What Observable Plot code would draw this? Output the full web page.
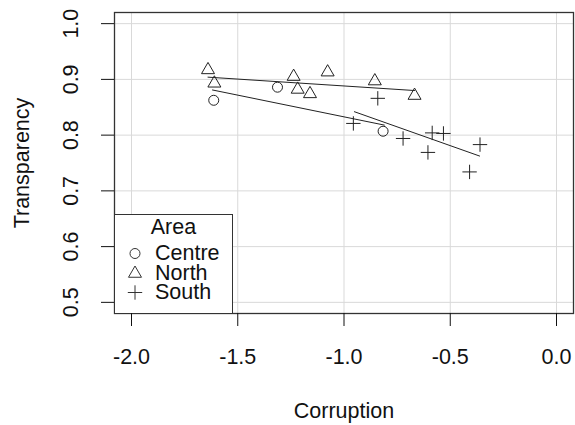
<!DOCTYPE html>
<html>
<head>
<meta charset="utf-8">
<script src="https://cdn.jsdelivr.net/npm/d3@7"></script>
<script src="https://cdn.jsdelivr.net/npm/@observablehq/plot@0.6"></script>
<style>
  body { margin: 0; background: #fff; }
  #wrap { position: relative; width: 575px; height: 425px; font-family: "Liberation Sans", Arial, sans-serif; }
  #legend { position: absolute; left: 114px; top: 214px; width: 117px; height: 98px; border: 1px solid #333; border-bottom: none; background: #fff; color: #111; font-size: 21.5px; }
  #legend .title { text-align: center; line-height: 20px; margin-top: 2px; margin-bottom: 7px; }
  #legend .row { display: flex; align-items: center; height: 19.5px; line-height: 19.5px; }
  #legend svg { width: 40px; height: 19px; flex: none; }
</style>
</head>
<body>
<div id="wrap"></div>
<script>
// Data
const centreX = [-1.613, -1.313, -0.816];
const centreY = [0.8625, 0.886, 0.807];
const northX = [-1.64, -1.61, -1.237, -1.218, -1.16, -1.077, -0.855, -0.668];
const northY = [0.917, 0.893, 0.905, 0.882, 0.874, 0.913, 0.897, 0.871];
const southX = [-0.841, -0.956, -0.722, -0.585, -0.532, -0.605, -0.36, -0.409];
const southY = [0.866, 0.821, 0.794, 0.804, 0.803, 0.769, 0.783, 0.734];
// fitted line endpoints per area
const fitArea = ["Centre", "Centre", "North", "North", "South", "South"];
const fitX = [-1.619, -0.81, -1.64, -0.668, -0.951, -0.362];
const fitY = [0.881, 0.818, 0.904, 0.880, 0.842, 0.7625];
const xTicks = [-2.0, -1.5, -1.0, -0.5, 0.0];
const yTicks = [0.5, 0.6, 0.7, 0.8, 0.9, 1.0];
const areas = ["Centre", "North", "South"];

const toRows = (xs, ys, area) => xs.map((x, i) => ({x, y: ys[i], area}));
const centre = toRows(centreX, centreY, "Centre");
const north = toRows(northX, northY, "North");
const south = toRows(southX, southY, "South");
const fits = fitX.map((x, i) => ({x, y: fitY[i], area: fitArea[i]}));

const ink = "#222";
const fs = 21.5;
const chart = Plot.plot({
  width: 575,
  height: 425,
  marginLeft: 114,
  marginRight: 2,
  marginTop: 12,
  marginBottom: 112,
  style: {fontFamily: "Liberation Sans, Arial, sans-serif", fontSize: fs + "px", color: "#111", background: "#fff"},
  x: {domain: [-2.08, 0.08]},
  y: {domain: [0.48, 1.02]},
  marks: [
    Plot.gridX(xTicks, {stroke: "#d9d9d9", strokeOpacity: 1}),
    Plot.gridY(yTicks, {stroke: "#d9d9d9", strokeOpacity: 1}),
    Plot.frame({stroke: "#333", strokeWidth: 1.3}),
    Plot.axisX(xTicks, {tickSize: 13, tickPadding: 22, tickFormat: d => d.toFixed(1), fontSize: fs,
      label: "Corruption", labelAnchor: "center", labelArrow: "none", labelOffset: 104}),
    Plot.axisY(yTicks, {tickSize: 13, tickPadding: 24, tickRotate: -90, tickFormat: d => d.toFixed(1), fontSize: fs,
      label: "Transparency", labelAnchor: "center", labelArrow: "none", labelOffset: 101}),
    Plot.line(fits, {x: "x", y: "y", z: "area", stroke: ink, strokeWidth: 1}),
    Plot.dot(centre, {x: "x", y: "y", symbol: "circle", r: 5, stroke: ink, fill: "none", strokeWidth: 1}),
    Plot.dot(north, {x: "x", y: "y", symbol: "triangle2", r: 6.2, stroke: ink, fill: "none", strokeWidth: 1}),
    Plot.dot(south, {x: "x", y: "y", symbol: "plus", r: 4.7, stroke: ink, fill: "none", strokeWidth: 1})
  ]
});

const wrap = document.getElementById("wrap");
wrap.appendChild(chart);

// Legend (R-style, inside the plot area)
const legend = document.createElement("div");
legend.id = "legend";
const title = document.createElement("div");
title.className = "title";
title.textContent = "Area";
legend.appendChild(title);
const symbolFor = {Centre: d3.symbolCircle, North: d3.symbolTriangle2, South: d3.symbolPlus};
const sizeFor = {Centre: Math.PI * 5 * 5, North: Math.PI * 6.2 * 6.2, South: Math.PI * 4.7 * 4.7};
for (const a of areas) {
  const row = document.createElement("div");
  row.className = "row";
  const s = d3.create("svg").attr("viewBox", "-20 -9.5 40 19");
  s.append("path").attr("d", d3.symbol(symbolFor[a], sizeFor[a])())
    .attr("fill", "none").attr("stroke", "#333").attr("stroke-width", 1);
  row.appendChild(s.node());
  const t = document.createElement("span");
  t.textContent = a;
  row.appendChild(t);
  legend.appendChild(row);
}
wrap.appendChild(legend);
</script>
</body>
</html>
